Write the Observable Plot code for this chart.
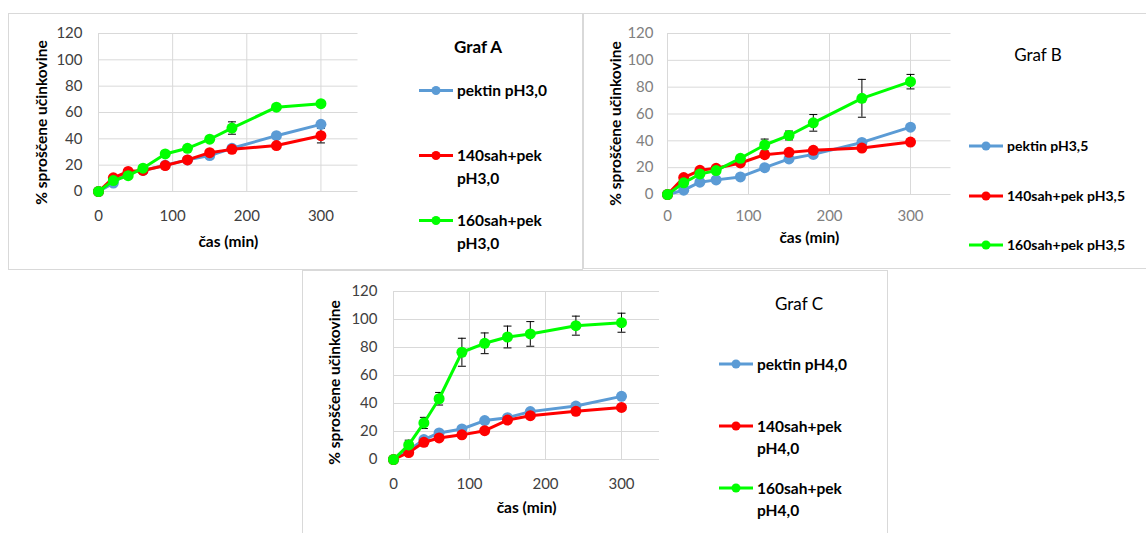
<!DOCTYPE html>
<html><head><meta charset="utf-8">
<script src="https://cdn.jsdelivr.net/npm/d3@7"></script>
<script src="https://cdn.jsdelivr.net/npm/@observablehq/plot@0.6"></script>
<style>
  html,body{margin:0;padding:0;background:#fff;}
  body{width:1146px;height:533px;position:relative;overflow:hidden;font-family:Lato,"Open Sans",sans-serif;}
  .box{position:absolute;border:1px solid #d9d9d9;box-sizing:border-box;}
  .title{position:absolute;transform:translate(-50%,-50%);white-space:nowrap;color:#000;}
  .leg{position:absolute;display:flex;align-items:flex-start;color:#000;font-weight:bold;}
  .leg svg{flex:none;}
</style></head><body>
<script>
// ---------------- data ----------------
const times = [0, 20, 40, 60, 90, 120, 150, 180, 240, 300];
const xTicks = [0, 100, 200, 300];
const yTicks = [0, 20, 40, 60, 80, 100, 120];
const xTitle = "čas (min)";
const yTitle = "% sproščene učinkovine";
const colors = ["#5B9BD5", "#FF0000", "#00FF00"];

const titleA = "Graf A";
const namesA = ["pektin pH3,0", "140sah+pek pH3,0", "160sah+pek pH3,0"];
const pektinA = [0, 6.4, 14.5, 16.0, 20.0, 24.0, 27.3, 32.8, 42.4, 51.0];
const sah140A = [0, 10.4, 15.2, 16.0, 19.7, 24.0, 29.5, 32.0, 34.9, 42.4];
const sah160A = [0, 8.3, 12.0, 17.7, 28.5, 32.8, 39.7, 48.2, 64.0, 66.7];
const errPektinA = [0, 0, 0, 0, 0, 0, 0, 0, 0, 0];
const err140A = [0, 0, 0, 0, 0, 0, 0, 0, 0, 5.5];
const err160A = [0, 0, 0, 0, 2.0, 0, 0, 4.7, 0, 0];

const titleB = "Graf B";
const namesB = ["pektin pH3,5", "140sah+pek pH3,5", "160sah+pek pH3,5"];
const pektinB = [0, 3.2, 9.2, 10.9, 13.1, 20.0, 26.5, 29.9, 38.8, 50.2];
const sah140B = [0, 12.6, 18.0, 19.5, 23.5, 29.7, 31.4, 32.9, 34.6, 39.1];
const sah160B = [0, 8.7, 15.3, 17.8, 27.0, 36.9, 44.0, 53.4, 71.7, 84.1];
const errPektinB = [0, 0, 0, 0, 0, 0, 0, 0, 0, 0];
const err140B = [0, 0, 0, 0, 0, 0, 0, 0, 0, 0];
const err160B = [0, 0, 0, 0, 2.0, 4.4, 3.3, 6.2, 14.1, 5.4];

const titleC = "Graf C";
const namesC = ["pektin pH4,0", "140sah+pek pH4,0", "160sah+pek pH4,0"];
const pektinC = [0, 6.6, 14.2, 19.0, 21.8, 27.8, 29.9, 34.2, 38.2, 45.1];
const sah140C = [0, 5.0, 12.3, 15.4, 17.6, 20.6, 28.2, 31.3, 34.4, 37.2];
const sah160C = [0, 10.4, 26.1, 43.4, 76.6, 83.0, 87.5, 89.7, 95.6, 97.7];
const errPektinC = [0, 0, 0, 0, 0, 0, 0, 0, 0, 0];
const err140C = [0, 0, 0, 0, 0, 0, 0, 0, 0, 0];
const err160C = [0, 3.4, 4.0, 4.5, 10.0, 7.4, 7.8, 8.8, 6.8, 6.8];

// ---------------- helpers ----------------
const capSymbol = {draw(ctx, size) { const r = Math.sqrt(size / Math.PI); ctx.moveTo(-r, 0); ctx.lineTo(r, 0); }};

function rows(names, values, errors) {
  return names.flatMap((name, si) => times.map((t, i) => ({series: name, si, t, v: values[si][i], e: errors[si][i]})));
}

function makePanel(cfg) {
  const data = rows(cfg.names, cfg.values, cfg.errors);
  const marks = [
    Plot.gridY(yTicks, {stroke: "#d9d9d9", strokeOpacity: 1, strokeWidth: 1}),
    Plot.gridX(xTicks, {stroke: "#d9d9d9", strokeOpacity: 1, strokeWidth: 1}),
    Plot.axisX(xTicks, {tickSize: 0, tickPadding: cfg.xPad, label: null, fontSize: cfg.tickFont}),
    Plot.axisY(yTicks, {tickSize: 0, tickPadding: cfg.yPad, label: null, fontSize: cfg.tickFont})
  ];
  const withErr = data.filter(d => d.e > 0);
  marks.push(
    Plot.ruleX(withErr, {x: "t", y1: d => d.v - d.e, y2: d => d.v + d.e, stroke: "#000", strokeWidth: 1}),
    Plot.dot(withErr, {x: "t", y: d => d.v + d.e, symbol: capSymbol, r: 4, stroke: "#000", strokeWidth: 1, fill: "none"}),
    Plot.dot(withErr, {x: "t", y: d => d.v - d.e, symbol: capSymbol, r: 4, stroke: "#000", strokeWidth: 1, fill: "none"})
  );
  cfg.names.forEach((name, si) => {
    const sd = data.filter(d => d.si === si);
    marks.push(
      Plot.line(sd, {x: "t", y: "v", stroke: colors[si], strokeWidth: 3}),
      Plot.dot(sd, {x: "t", y: "v", r: 5.5, fill: colors[si], stroke: "none"})
    );
  });
  marks.push(
    Plot.text([xTitle], {frameAnchor: "bottom", lineAnchor: "middle", textAnchor: "middle", dy: cfg.xTitleDy, fontWeight: "bold", fontSize: cfg.titleFont, fill: "#000"}),
    Plot.text([yTitle], {frameAnchor: "left", lineAnchor: "middle", textAnchor: "middle", rotate: -90, dx: cfg.yTitleDx, dy: cfg.yTitleDy, fontWeight: "bold", fontSize: cfg.titleFont, fill: "#000"})
  );
  const [L, T, W, H] = cfg.svgBox;
  const [px0, px1, pyTop, pyBot] = cfg.plotArea;
  const svg = Plot.plot({
    width: W, height: H,
    marginLeft: px0 - L, marginRight: L + W - px1, marginTop: pyTop - T, marginBottom: T + H - pyBot,
    x: {domain: [0, 350]},
    y: {domain: [0, 120]},
    style: {fontFamily: "Lato, 'Open Sans', sans-serif", color: cfg.tickColor, background: "transparent", overflow: "visible"},
    marks
  });
  svg.style.position = "absolute";
  svg.style.left = L + "px";
  svg.style.top = T + "px";
  document.body.appendChild(svg);

  // title
  const tt = document.createElement("div");
  tt.className = "title";
  tt.textContent = cfg.title;
  tt.style.left = cfg.titlePos[0] + "px";
  tt.style.top = cfg.titlePos[1] + "px";
  tt.style.fontSize = cfg.graphTitleFont + "px";
  tt.style.fontWeight = cfg.graphTitleBold ? "bold" : "normal";
  document.body.appendChild(tt);

  // legend
  cfg.names.forEach((name, si) => {
    const lg = document.createElement("div");
    lg.className = "leg";
    const lh = cfg.legLine;
    lg.style.left = cfg.legX + "px";
    lg.style.top = (cfg.legRows[si] - lh / 2) + "px";
    lg.style.fontSize = cfg.legFont + "px";
    lg.style.lineHeight = lh + "px";
    const sw = d3.create("svg").attr("width", cfg.swW + 4).attr("height", lh);
    sw.append("line").attr("x1", 0).attr("x2", cfg.swW).attr("y1", lh / 2).attr("y2", lh / 2)
      .attr("stroke", colors[si]).attr("stroke-width", 3);
    sw.append("circle").attr("cx", cfg.swW / 2).attr("cy", lh / 2).attr("r", 4.5).attr("fill", colors[si]);
    lg.appendChild(sw.node());
    const tx = document.createElement("span");
    tx.textContent = name;
    tx.style.display = "inline-block";
    if (cfg.legWidth) tx.style.width = cfg.legWidth + "px";
    lg.appendChild(tx);
    document.body.appendChild(lg);
  });
}

// panel frames
[[8, 13, 575, 257], [583, 13, 565, 256], [302, 270, 586, 266]].forEach(([l, t, w, h]) => {
  const b = document.createElement("div");
  b.className = "box";
  Object.assign(b.style, {left: l + "px", top: t + "px", width: w + "px", height: h + "px"});
  document.body.appendChild(b);
});

makePanel({
  names: namesA, values: [pektinA, sah140A, sah160A], errors: [errPektinA, err140A, err160A],
  svgBox: [10, 15, 365, 245], plotArea: [98, 357.5, 33, 191],
  tickColor: "#404040", tickFont: 15, titleFont: 15.5, xPad: 19, yPad: 16,
  xTitleDy: 51, yTitleDx: -56, yTitleDy: 10,
  title: titleA, titlePos: [478, 46], graphTitleFont: 17, graphTitleBold: true,
  legX: 419, swW: 34, legRows: [90, 155, 220], legFont: 15.5, legLine: 23, legWidth: 105
});
makePanel({
  names: namesB, values: [pektinB, sah140B, sah160B], errors: [errPektinB, err140B, err160B],
  svgBox: [587, 15, 375, 245], plotArea: [667, 950.5, 33, 194],
  tickColor: "#808080", tickFont: 15, titleFont: 15.5, xPad: 16, yPad: 14,
  xTitleDy: 44, yTitleDx: -51, yTitleDy: 9.5,
  title: titleB, titlePos: [1038, 54], graphTitleFont: 17, graphTitleBold: false,
  legX: 969, swW: 34, legRows: [146, 196, 245], legFont: 14, legLine: 22, legWidth: 0
});
makePanel({
  names: namesC, values: [pektinC, sah140C, sah160C], errors: [errPektinC, err140C, err160C],
  svgBox: [304, 272, 370, 258], plotArea: [393, 659, 291, 459],
  tickColor: "#404040", tickFont: 15, titleFont: 15.5, xPad: 19, yPad: 16,
  xTitleDy: 49, yTitleDx: -58, yTitleDy: 7,
  title: titleC, titlePos: [799, 303], graphTitleFont: 17, graphTitleBold: false,
  legX: 719, swW: 34, legRows: [364, 426, 488], legFont: 15.5, legLine: 22, legWidth: 108
});
</script>
</body></html>
